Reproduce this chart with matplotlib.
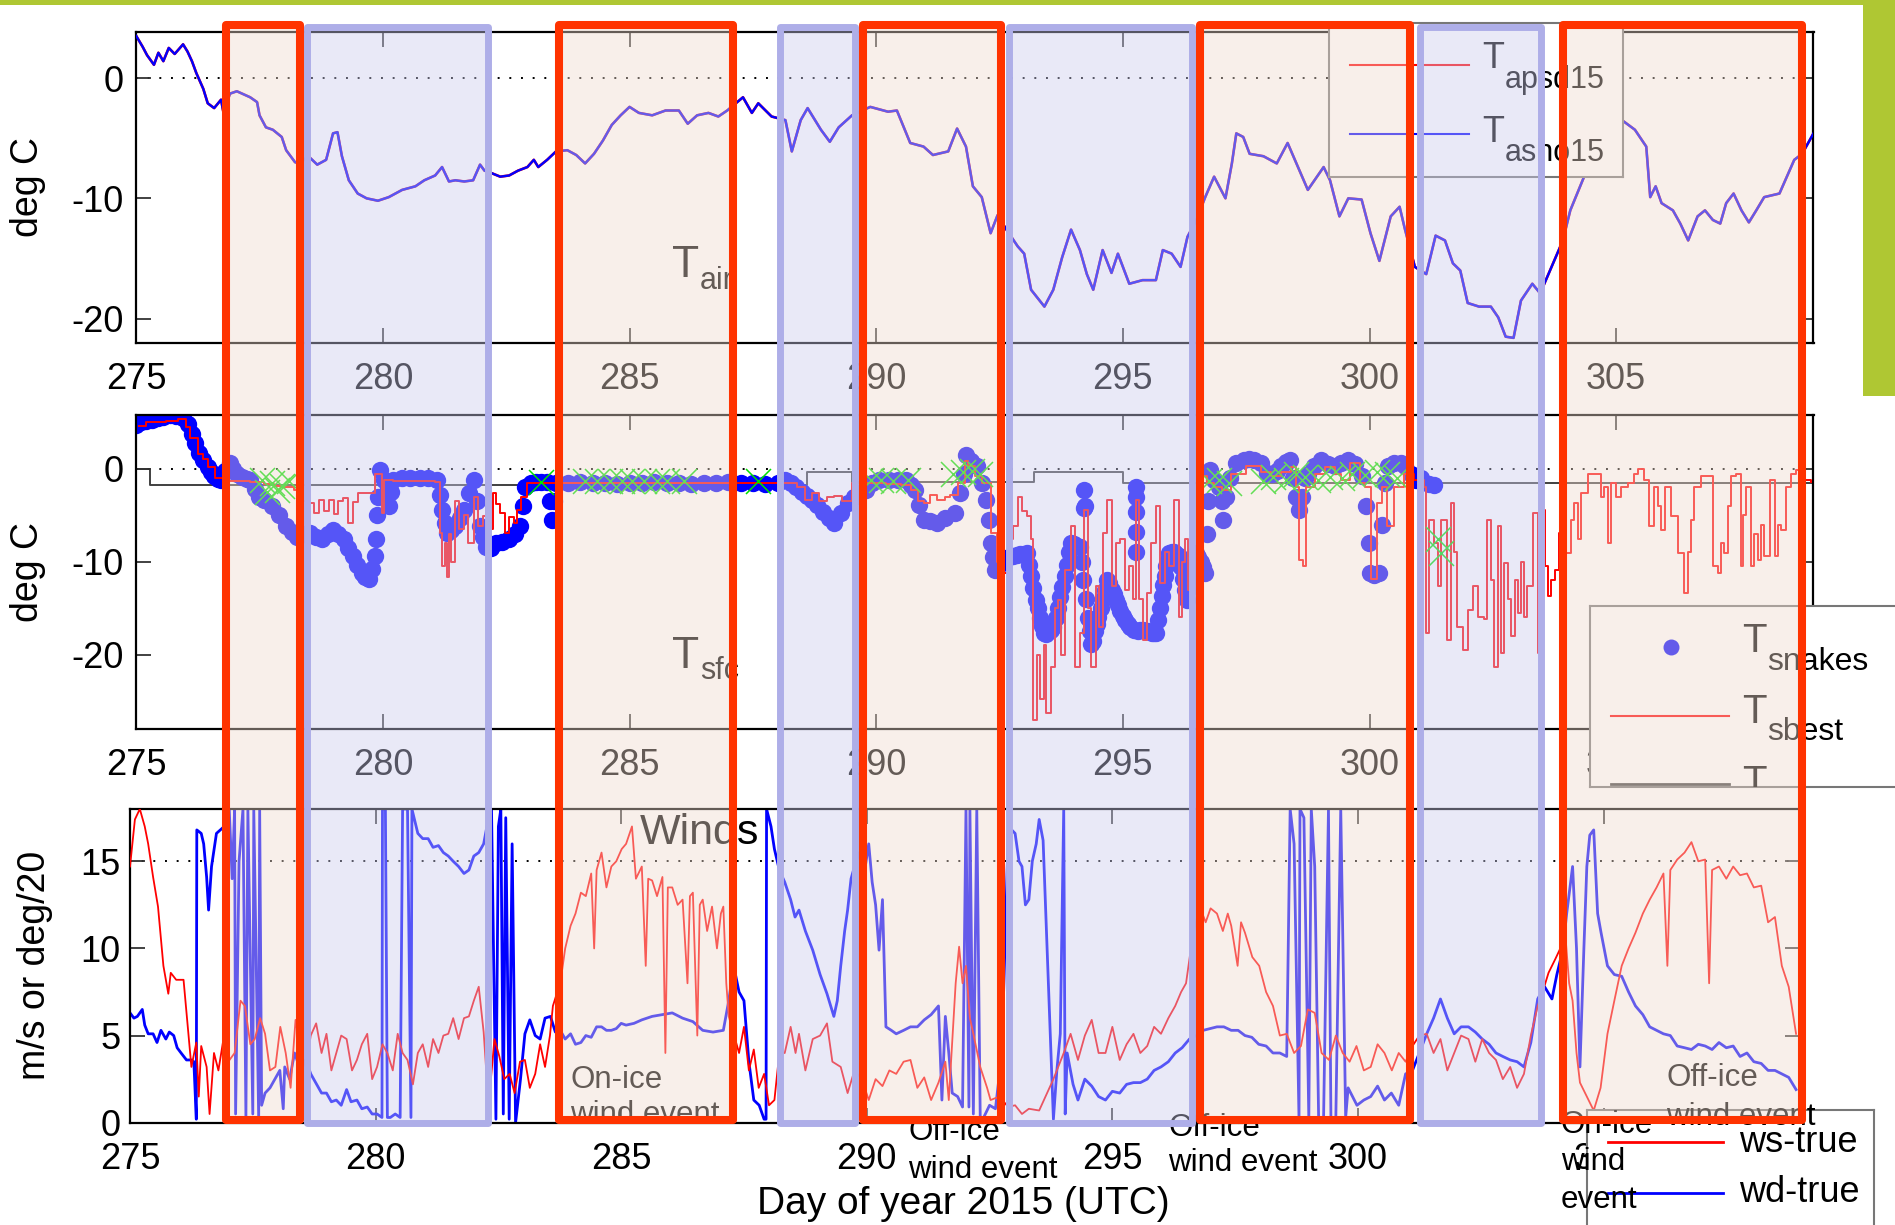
import matplotlib
matplotlib.use("Agg")
import matplotlib.pyplot as plt
from matplotlib.patches import Rectangle
from matplotlib.transforms import Affine2D, blended_transform_factory

plt.rcParams['font.family'] = ['Liberation Sans', 'DejaVu Sans']
plt.rcParams['axes.unicode_minus'] = False

# ---- data (day of year 2015) ----
# top panel: air temperature
t_day = [275.00, 275.13, 275.22, 275.36, 275.45, 275.55, 275.66, 275.78, 275.95, 276.04,
         276.13, 276.22, 276.36, 276.45, 276.58, 276.72, 276.77, 276.90, 277.04, 277.31,
         277.45, 277.50, 277.63, 277.77, 277.95, 278.04, 278.22, 278.31, 278.49, 278.67,
         278.85, 278.99, 279.08, 279.17, 279.31, 279.49, 279.67, 279.90, 280.12, 280.39,
         280.66, 280.84, 281.06, 281.20, 281.34, 281.47, 281.65, 281.83, 281.97, 282.06,
         282.20, 282.38, 282.56, 282.74, 282.93, 283.06, 283.15, 283.33, 283.51, 283.74,
         283.92, 284.10, 284.28, 284.46, 284.64, 284.82, 285.00, 285.19, 285.46, 285.73,
         286.00, 286.18, 286.37, 286.60, 286.80, 286.98, 287.30, 287.48, 287.61, 287.88,
         288.16, 288.29, 288.47, 288.61, 288.88, 289.06, 289.24, 289.51, 289.88, 290.24,
         290.42, 290.69, 290.96, 291.15, 291.46, 291.64, 291.82, 291.96, 292.14, 292.32,
         292.46, 292.64, 292.87, 293.00, 293.14, 293.41, 293.59, 293.77, 293.95, 294.13,
         294.27, 294.40, 294.59, 294.77, 294.90, 295.13, 295.40, 295.67, 295.81, 295.99,
         296.17, 296.31, 296.49, 296.67, 296.85, 297.08, 297.21, 297.30, 297.44, 297.57,
         297.85, 298.12, 298.34, 298.57, 298.75, 299.07, 299.20, 299.39, 299.57, 299.84,
         300.02, 300.20, 300.43, 300.61, 300.72, 300.92, 301.15, 301.34, 301.53, 301.69,
         301.84, 301.99, 302.22, 302.46, 302.61, 302.76, 302.92, 303.07, 303.30, 303.46,
         303.69, 303.92, 304.07, 304.27, 304.38, 304.69, 305.15, 305.38, 305.61, 305.69,
         305.80, 305.92, 306.15, 306.30, 306.46, 306.65, 306.80, 306.96, 307.11, 307.23,
         307.38, 307.54, 307.69, 307.84, 308.00, 308.31, 308.46, 308.61, 308.77, 308.92, 309.00]
t_asho15 = [3.5, 2.6, 1.9, 1.1, 2.1, 1.4, 2.5, 2.0, 2.8, 2.2,
            1.4, 0.4, -0.9, -2.1, -2.5, -1.8, -2.9, -1.3, -1.1, -1.6,
            -2.0, -3.1, -4.1, -4.3, -4.9, -6.0, -7.0, -7.1, -6.5, -7.2,
            -6.8, -4.6, -4.5, -6.5, -8.5, -9.6, -10.0, -10.2, -9.9, -9.3,
            -9.0, -8.5, -8.1, -7.4, -8.6, -8.5, -8.6, -8.5, -7.2, -7.7,
            -7.9, -8.2, -8.1, -7.7, -7.4, -6.8, -7.4, -6.8, -6.1, -6.0,
            -6.4, -7.1, -6.3, -5.2, -3.9, -3.1, -2.4, -2.9, -3.1, -2.7,
            -2.7, -3.8, -3.1, -2.9, -3.2, -2.7, -1.6, -2.9, -2.1, -3.2,
            -3.5, -6.1, -3.5, -2.5, -4.3, -5.3, -4.1, -3.1, -2.4, -2.8,
            -2.7, -5.4, -5.7, -6.4, -6.1, -4.2, -5.7, -9.0, -9.9, -12.9,
            -11.4, -12.6, -14.0, -14.6, -17.6, -19.0, -17.6, -14.9, -12.6, -14.3,
            -16.3, -17.6, -14.3, -16.2, -14.6, -17.1, -16.8, -16.8, -14.3, -14.6,
            -15.7, -13.2, -11.8, -9.9, -8.2, -10.0, -7.1, -4.6, -4.9, -6.3,
            -6.5, -7.1, -5.4, -7.6, -9.3, -7.4, -8.5, -11.5, -10.0, -10.1,
            -12.9, -15.2, -11.5, -10.7, -12.6, -15.7, -16.3, -13.1, -13.5, -15.4,
            -16.0, -18.7, -19.0, -19.0, -19.9, -21.5, -21.6, -18.5, -17.1, -17.9,
            -15.7, -13.5, -11.0, -9.0, -7.9, -5.2, -3.6, -4.3, -5.7, -9.9,
            -9.0, -10.4, -11.0, -12.1, -13.5, -11.5, -11.0, -11.8, -12.1, -10.4,
            -9.6, -11.0, -12.0, -11.0, -9.9, -9.6, -8.2, -6.8, -6.3, -5.2, -4.6]
# the two air sensors are indistinguishable at this scale
t_apsd15 = [3.5, 2.6, 1.9, 1.1, 2.1, 1.4, 2.5, 2.0, 2.8, 2.2,
            1.4, 0.4, -0.9, -2.1, -2.5, -1.8, -2.9, -1.3, -1.1, -1.6,
            -2.0, -3.1, -4.1, -4.3, -4.9, -6.0, -7.0, -7.1, -6.5, -7.2,
            -6.8, -4.6, -4.5, -6.5, -8.5, -9.6, -10.0, -10.2, -9.9, -9.3,
            -9.0, -8.5, -8.1, -7.4, -8.6, -8.5, -8.6, -8.5, -7.2, -7.7,
            -7.9, -8.2, -8.1, -7.7, -7.4, -6.8, -7.4, -6.8, -6.1, -6.0,
            -6.4, -7.1, -6.3, -5.2, -3.9, -3.1, -2.4, -2.9, -3.1, -2.7,
            -2.7, -3.8, -3.1, -2.9, -3.2, -2.7, -1.6, -2.9, -2.1, -3.2,
            -3.5, -6.1, -3.5, -2.5, -4.3, -5.3, -4.1, -3.1, -2.4, -2.8,
            -2.7, -5.4, -5.7, -6.4, -6.1, -4.2, -5.7, -9.0, -9.9, -12.9,
            -11.4, -12.6, -14.0, -14.6, -17.6, -19.0, -17.6, -14.9, -12.6, -14.3,
            -16.3, -17.6, -14.3, -16.2, -14.6, -17.1, -16.8, -16.8, -14.3, -14.6,
            -15.7, -13.2, -11.8, -9.9, -8.2, -10.0, -7.1, -4.6, -4.9, -6.3,
            -6.5, -7.1, -5.4, -7.6, -9.3, -7.4, -8.5, -11.5, -10.0, -10.1,
            -12.9, -15.2, -11.5, -10.7, -12.6, -15.7, -16.3, -13.1, -13.5, -15.4,
            -16.0, -18.7, -19.0, -19.0, -19.9, -21.5, -21.6, -18.5, -17.1, -17.9,
            -15.7, -13.5, -11.0, -9.0, -7.9, -5.2, -3.6, -4.3, -5.7, -9.9,
            -9.0, -10.4, -11.0, -12.1, -13.5, -11.5, -11.0, -11.8, -12.1, -10.4,
            -9.6, -11.0, -12.0, -11.0, -9.9, -9.6, -8.2, -6.8, -6.3, -5.2, -4.6]

# middle panel: surface temperature
snake_day = [275.00, 275.10, 275.20, 275.32, 275.45, 275.55, 275.68, 275.80, 275.95, 276.05,
             276.13, 276.20, 276.27, 276.35, 276.45, 276.52, 276.58, 276.65, 276.72, 276.80,
             276.90, 276.97, 277.04, 277.15, 277.25, 277.31, 277.40, 277.49, 277.60, 277.76,
             277.90, 278.03, 278.15, 278.26, 278.40, 278.53, 278.65, 278.76, 278.88, 278.99,
             279.10, 279.21, 279.30, 279.39, 279.48, 279.57, 279.64, 279.71, 279.78, 279.85,
             279.87, 279.89, 279.91, 279.94, 280.03, 280.08, 280.12, 280.16, 280.20, 280.39,
             280.55, 280.75, 280.92, 281.10, 281.15, 281.20, 281.25, 281.30, 281.39, 281.47,
             281.56, 281.65, 281.74, 281.84, 281.90, 281.97, 282.03, 282.10, 282.20, 282.29,
             282.42, 282.56, 282.68, 282.79, 282.84, 282.88, 283.00, 283.10, 283.20, 283.33,
             283.38, 283.42, 283.47, 283.51, 283.75, 284.00, 284.25, 284.50, 284.75, 285.00,
             285.25, 285.50, 285.75, 286.00, 286.25, 286.50, 286.75, 287.00, 287.25, 287.50,
             287.75, 288.00, 288.16, 288.27, 288.38, 288.50, 288.60, 288.70, 288.80, 288.92,
             289.04, 289.15, 289.28, 289.42, 289.55, 289.67, 289.79, 289.92, 290.06, 290.25,
             290.45, 290.60, 290.70, 290.78, 290.87, 290.96, 291.10, 291.24, 291.40, 291.60,
             291.70, 291.78, 291.82, 291.93, 292.05, 292.14, 292.23, 292.28, 292.32, 292.37,
             292.41, 292.55, 292.70, 292.78, 292.92, 293.05, 293.14, 293.23, 293.32, 293.41,
             293.50, 293.59, 293.68, 293.77, 293.86, 293.95, 294.04, 294.13, 294.20, 294.22,
             294.24, 294.30, 294.36, 294.43, 294.50, 294.59, 294.68, 294.77, 294.86, 294.95,
             295.05, 295.15, 295.22, 295.27, 295.27, 295.27, 295.31, 295.40, 295.50, 295.60,
             295.67, 295.75, 295.82, 295.88, 295.94, 296.04, 296.13, 296.22, 296.31, 296.40,
             296.49, 296.58, 296.67, 296.70, 296.73, 296.76, 296.85, 296.94, 297.00, 297.03,
             297.10, 297.17, 297.30, 297.45, 297.55, 297.66, 297.80, 297.92, 298.03, 298.12,
             298.21, 298.30, 298.39, 298.45, 298.50, 298.57, 298.63, 298.70, 298.75, 298.88,
             299.02, 299.15, 299.30, 299.43, 299.57, 299.70, 299.84, 299.92, 299.98, 300.02,
             300.10, 300.20, 300.26, 300.32, 300.38, 300.50, 300.63, 300.72, 300.85, 300.95,
             301.05, 301.20, 301.30,
             292.45, 292.50, 292.62, 292.85, 293.00, 293.09, 293.18, 293.27, 293.36, 293.45,
             293.55, 293.64, 293.72, 293.82, 293.90, 294.00, 294.08, 294.17, 294.26, 294.33,
             294.40, 294.47, 294.55, 294.64, 294.72, 294.82, 294.90, 295.00, 295.10, 295.35,
             295.45, 295.55, 295.63, 295.71, 295.79, 295.85, 295.91, 295.99, 296.08, 296.17,
             296.26, 296.35, 296.44, 296.53, 296.62, 294.22, 295.27, 295.27]
snake_val = [4.7, 5.0, 5.2, 5.3, 5.5, 5.6, 5.8, 5.7, 5.5, 4.8,
             3.8, 2.8, 1.7, 1.0, 0.2, -0.3, -0.8, -1.1, -1.2, -0.2,
             0.6, 0.0, -0.5, -0.9, -1.1, -1.2, -2.2, -3.0, -3.4, -4.0,
             -5.0, -6.2, -6.8, -7.3, -7.0, -6.9, -7.3, -7.6, -7.0, -6.6,
             -7.0, -7.6, -8.5, -9.4, -10.3, -11.2, -11.6, -11.9, -10.8, -9.4,
             -7.5, -5.0, -3.0, -0.1, -1.2, -2.5, -4.0, -2.5, -1.2, -1.0,
             -1.0, -1.0, -1.0, -1.2, -2.8, -4.4, -5.8, -6.9, -6.6, -6.2,
             -5.3, -4.4, -2.6, -1.2, -3.5, -6.2, -7.3, -8.4, -8.5, -8.0,
             -7.9, -7.6, -7.0, -6.2, -4.0, -1.9, -1.5, -1.4, -1.4, -1.4,
             -3.5, -5.5, -3.5, -1.5, -1.5, -1.4, -1.5, -1.5, -1.6, -1.5,
             -1.5, -1.4, -1.5, -1.5, -1.6, -1.5, -1.5, -1.4, -1.5, -1.5,
             -1.6, -1.5, -1.2, -1.5, -1.9, -2.5, -2.9, -3.3, -3.9, -4.6,
             -5.3, -5.8, -4.8, -3.7, -3.0, -2.6, -2.3, -1.5, -1.2, -1.2,
             -1.2, -1.2, -1.7, -2.3, -3.9, -5.5, -5.6, -5.8, -5.3, -4.8,
             -2.6, -0.5, 1.5, 0.9, 0.3, -1.5, -3.3, -5.5, -8.0, -9.5,
             -10.9, -10.0, -9.5, -9.4, -9.2, -9.1, -11.5, -14.1, -16.0, -17.7,
             -17.5, -17.0, -15.0, -12.7, -10.3, -8.0, -8.3, -8.4, -12.0, -2.3,
             -4.0, -16.0, -18.8, -17.5, -15.9, -14.0, -12.0, -13.0, -14.1, -15.3,
             -16.3, -17.0, -17.3, -1.9, -4.6, -9.0, -17.4, -17.3, -17.5, -17.7,
             -17.7, -15.0, -12.5, -10.5, -9.1, -9.0, -9.4, -11.8, -14.1, -11.5,
             -9.1, -10.0, -11.2, -7.0, -3.5, -0.1, -1.2, -1.9, -3.5, -5.5,
             -3.0, -1.0, 0.6, 1.0, 1.1, 1.0, 0.6, -0.4, -0.5, -0.2,
             0.3, 0.7, 1.0, -1.0, -3.0, -4.4, -3.0, -1.0, -0.5, 0.3,
             1.0, 0.5, 0.3, 0.6, 1.0, 0.5, -0.8, -4.0, -8.0, -11.2,
             -11.4, -11.2, -6.0, -1.5, 0.3, 0.6, 0.6, 0.3, -0.6, -1.2,
             -1.0, -1.6, -1.7,
             -10.5, -10.2, -9.8, -9.3, -9.2, -10.3, -12.8, -15.0, -16.9, -17.8,
             -17.3, -16.0, -13.8, -11.5, -9.0, -8.1, -8.3, -10.0, -14.0, -17.5,
             -18.5, -16.7, -15.0, -13.0, -12.3, -13.5, -14.7, -15.8, -16.7, -17.3,
             -17.4, -17.6, -17.7, -16.3, -13.7, -11.5, -9.8, -9.0, -9.2, -10.6,
             -13.0, -12.8, -10.3, -9.5, -10.6, -4.2, -3.0, -6.8]

sbest_day = [275.05, 275.20, 275.40, 275.60, 275.85, 276.00, 276.10, 276.25, 276.35, 276.45,
             276.60, 276.75, 277.00, 277.30, 277.60, 277.80, 278.00, 278.20, 278.35, 278.50,
             278.60, 278.70, 278.80, 278.90, 279.00, 279.10, 279.20, 279.30, 279.40, 279.50,
             279.65, 279.75, 279.85, 279.92, 279.98, 280.02, 280.20, 280.50, 280.80, 281.05,
             281.15, 281.20, 281.25, 281.30, 281.35, 281.39, 281.47, 281.55, 281.65, 281.72,
             281.84, 281.92, 282.02, 282.10, 282.20, 282.24, 282.30, 282.38, 282.47, 282.56,
             282.65, 282.72, 282.80, 282.93, 283.50, 288.16, 288.40, 288.55, 288.70, 288.85,
             289.00, 289.15, 289.30, 289.50, 289.80, 290.20, 290.50, 290.70, 290.85, 290.96,
             291.10, 291.24, 291.40, 291.50, 291.65, 291.80, 291.87, 292.00, 292.14, 292.32,
             292.45, 292.59, 292.70, 292.78, 292.87, 292.95, 293.05, 293.14, 293.18, 293.25,
             293.32, 293.40, 293.45, 293.55, 293.62, 293.68, 293.75, 293.82, 293.95, 294.04,
             294.13, 294.22, 294.30, 294.36, 294.45, 294.52, 294.59, 294.68, 294.77, 294.86,
             294.95, 295.05, 295.13, 295.20, 295.27, 295.33, 295.40, 295.49, 295.57, 295.67,
             295.76, 295.85, 295.94, 296.03, 296.13, 296.20, 296.26, 296.33, 296.40, 296.50,
             296.58, 296.70, 296.85, 297.00, 297.20, 297.50, 297.80, 298.00, 298.20, 298.40,
             298.50, 298.57, 298.65, 298.72, 298.90, 299.10, 299.30, 299.42, 299.60, 299.80,
             299.90, 300.03, 300.09, 300.16, 300.25, 300.36, 300.50, 300.70, 300.90, 301.11,
             301.14, 301.21, 301.30, 301.38, 301.45, 301.58, 301.65, 301.72, 301.78, 301.89,
             301.99, 302.09, 302.19, 302.33, 302.39, 302.46, 302.53, 302.60, 302.66, 302.73,
             302.80, 302.87, 302.94, 303.00, 303.07, 303.14, 303.20, 303.31, 303.41, 303.48,
             303.55, 303.61, 303.68, 303.75, 303.85, 303.95, 304.08, 304.15, 304.22, 304.29,
             304.42, 304.56, 304.69, 304.76, 304.83, 304.90, 305.00, 305.10, 305.23, 305.37,
             305.44, 305.57, 305.67, 305.77, 305.84, 305.91, 305.98, 306.11, 306.25, 306.38,
             306.45, 306.52, 306.58, 306.72, 306.86, 306.96, 307.06, 307.12, 307.19, 307.26,
             307.33, 307.43, 307.53, 307.58, 307.63, 307.74, 307.80, 307.87, 307.94, 308.00,
             308.11, 308.21, 308.28, 308.34, 308.44, 308.55, 308.65, 308.75, 308.95]
sbest_val = [4.6, 5.0, 5.0, 5.2, 5.4, 4.5, 3.3, 1.6, 1.1, 0.2,
             -1.0, -1.3, -1.3, -1.4, -1.6, -1.8, -2.0, -2.3, -3.5, -3.7,
             -4.8, -3.3, -4.5, -3.3, -4.9, -3.5, -3.1, -5.8, -3.6, -2.6,
             -2.6, -2.6, -0.5, -0.6, -4.8, -1.2, -1.3, -1.3, -1.3, -1.4,
             -6.9, -10.5, -8.0, -11.6, -7.0, -10.0, -3.5, -6.5, -5.0, -8.0,
             -3.0, -6.2, -5.1, -3.5, -6.5, -2.6, -3.8, -4.8, -6.9, -5.2,
             -5.8, -4.4, -3.0, -1.5, -1.5, -1.5, -2.0, -3.3, -2.6, -3.5,
             -3.0, -2.9, -3.5, -1.5, -1.5, -1.6, -1.7, -2.3, -3.5, -3.7,
             -2.8, -3.3, -3.0, -2.8, -1.5, 0.8, 0.3, -0.8, -1.5, -6.9,
             -10.0, -11.2, -7.5, -6.2, -3.0, -4.5, -5.1, -7.6, -27.0, -20.0,
             -24.8, -19.0, -26.3, -21.3, -15.0, -14.1, -20.0, -10.9, -6.2, -21.3,
             -17.7, -4.4, -15.0, -21.3, -12.6, -17.0, -6.9, -3.3, -12.6, -8.0,
             -7.6, -13.0, -10.5, -14.0, -3.3, -14.0, -18.4, -13.4, -8.0, -4.0,
             -12.3, -9.0, -10.5, -3.3, -15.9, -10.0, -7.6, -13.0, -12.6, -6.0,
             -0.8, -1.5, -1.9, -2.3, -0.5, 0.3, -0.3, -0.8, -0.3, 0.2,
             -2.0, -9.8, -10.5, -2.0, -0.6, 0.2, -0.5, -1.2, 0.6, -1.5,
             -2.0, -11.9, -11.9, -3.7, -2.0, -6.2, -1.9, -0.5, -1.2, -1.9,
             -17.7, -5.5, -8.0, -12.6, -5.5, -18.4, -3.7, -9.0, -17.0, -19.5,
             -15.2, -12.6, -15.9, -16.2, -5.5, -12.0, -21.3, -6.2, -19.8, -10.1,
             -14.0, -18.0, -12.0, -15.5, -10.0, -15.9, -12.6, -4.8, -19.8, -4.4,
             -10.5, -13.7, -12.0, -10.9, -6.9, -9.1, -5.5, -3.7, -7.6, -2.6,
             -0.5, -0.6, -3.0, -2.0, -8.0, -1.5, -3.0, -1.9, -1.5, -0.5,
             0.0, -1.2, -6.2, -1.9, -4.0, -6.6, -1.9, -5.1, -9.1, -13.4,
             -9.0, -5.5, -1.9, -0.8, -0.8, -10.5, -11.2, -8.0, -9.1, -4.0,
             -0.8, -0.5, -10.5, -5.0, -1.9, -10.5, -7.0, -9.8, -6.0, -9.4,
             -1.2, -9.4, -6.0, -6.6, -1.9, -0.5, -0.1, -1.2, -1.4]

cross_day = [277.55, 277.65, 277.75, 277.85, 277.95, 278.10, 283.20, 284.10, 284.35, 284.60,
             284.85, 285.05, 285.30, 285.55, 285.75, 286.10, 287.60, 289.90, 290.10, 290.35,
             290.65, 291.55, 291.75, 291.95, 292.10, 296.75, 296.95, 297.15, 297.85, 298.05,
             298.30, 298.50, 298.70, 298.95, 299.20, 299.45, 299.65, 299.90, 300.15, 300.35,
             300.55, 301.38, 301.45]
cross_val = [-1.2, -2.5, -1.5, -2.3, -1.8, -1.3, -1.4, -1.3, -1.3, -1.3,
             -1.3, -1.3, -1.3, -1.3, -1.3, -1.3, -1.3, -1.2, -1.2, -1.3,
             -1.2, -0.5, -0.3, -0.2, -0.6, -1.3, -1.2, -1.5, -1.3, -0.9,
             -1.2, -0.5, -0.9, -1.2, -0.9, -1.0, -0.5, -0.7, -0.3, -0.5,
             -1.0, -7.6, -9.1]

ref_day = [275.00, 275.28, 275.28, 288.60, 288.60, 289.50, 289.50, 293.20, 293.20, 295.00,
           295.00, 309.00]
ref_val = [0.0, 0.0, -1.7, -1.7, -0.3, -0.3, -1.4, -1.4, -0.3, -0.3,
           -1.5, -1.5]

# bottom panel: winds
ws_day = [275.00, 275.10, 275.20, 275.30, 275.37, 275.47, 275.57, 275.68, 275.78, 275.83,
          275.94, 276.09, 276.15, 276.25, 276.35, 276.40, 276.45, 276.56, 276.62, 276.71,
          276.80, 276.92, 277.00, 277.13, 277.25, 277.34, 277.45, 277.54, 277.65, 277.75,
          277.85, 277.96, 278.06, 278.17, 278.27, 278.37, 278.48, 278.58, 278.68, 278.79,
          278.90, 279.00, 279.10, 279.20, 279.30, 279.41, 279.52, 279.62, 279.72, 279.83,
          279.93, 280.03, 280.14, 280.24, 280.35, 280.45, 280.55, 280.65, 280.76, 280.86,
          280.96, 281.07, 281.17, 281.28, 281.38, 281.48, 281.58, 281.69, 281.80, 281.90,
          282.00, 282.10, 282.20, 282.30, 282.42, 282.52, 282.62, 282.73, 282.83, 282.94,
          283.04, 283.14, 283.25, 283.35, 283.45, 283.55, 283.61, 283.70, 283.76, 283.86,
          283.97, 284.07, 284.18, 284.28, 284.39, 284.45, 284.50, 284.60, 284.70, 284.80,
          284.90, 285.01, 285.10, 285.22, 285.30, 285.42, 285.50, 285.55, 285.63, 285.73,
          285.84, 285.90, 285.95, 286.04, 286.15, 286.25, 286.35, 286.40, 286.46, 286.55,
          286.60, 286.66, 286.75, 286.85, 286.95, 287.03, 287.08, 287.14, 287.19, 287.29,
          287.40, 287.50, 287.60, 287.70, 287.80, 287.91, 288.01, 288.12, 288.22, 288.33,
          288.45, 288.55, 288.62, 288.75, 288.90, 289.05, 289.19, 289.30, 289.47, 289.61,
          289.75, 289.90, 290.04, 290.18, 290.32, 290.46, 290.60, 290.75, 290.89, 291.03,
          291.17, 291.31, 291.46, 291.60, 291.67, 291.81, 291.88, 291.95, 292.02, 292.10,
          292.17, 292.31, 292.45, 292.52, 292.70, 292.88, 293.02, 293.16, 293.30, 293.51,
          293.80, 294.01, 294.15, 294.30, 294.44, 294.58, 294.72, 294.86, 295.00, 295.15,
          295.29, 295.43, 295.57, 295.71, 295.85, 295.99, 296.14, 296.28, 296.40, 296.50,
          296.60, 296.70, 296.78, 296.90, 297.00, 297.13, 297.25, 297.35, 297.42, 297.55,
          297.62, 297.70, 297.85, 297.99, 298.13, 298.27, 298.41, 298.55, 298.70, 298.84,
          298.98, 299.12, 299.26, 299.41, 299.55, 299.69, 299.83, 299.97, 300.12, 300.26,
          300.40, 300.54, 300.69, 300.83, 300.97, 301.11, 301.25, 301.40, 301.54, 301.68,
          301.82, 301.96, 302.10, 302.25, 302.39, 302.53, 302.67, 302.81, 302.95, 303.10,
          303.24, 303.38, 303.52, 303.66, 303.76, 303.88, 304.02, 304.12, 304.23, 304.30,
          304.37, 304.45, 304.52, 304.66, 304.80, 304.94, 305.08, 305.22, 305.37, 305.51,
          305.65, 305.80, 305.94, 306.08, 306.22, 306.30, 306.36, 306.50, 306.65, 306.79,
          306.93, 307.07, 307.15, 307.21, 307.35, 307.50, 307.64, 307.78, 307.92, 308.06,
          308.21, 308.35, 308.49, 308.63, 308.77, 308.92]
ws_true = [14.7, 17.4, 18.0, 17.0, 16.0, 14.1, 12.4, 9.0, 7.4, 8.6,
           8.2, 8.2, 6.3, 3.2, 4.6, 1.5, 4.4, 3.2, 0.5, 4.0,
           3.0, 5.1, 3.5, 4.0, 7.0, 6.7, 4.5, 4.8, 6.0, 5.1,
           3.0, 3.2, 5.5, 4.0, 2.0, 5.9, 4.0, 3.2, 5.0, 5.7,
           4.0, 5.1, 3.0, 4.0, 5.0, 4.8, 3.0, 3.6, 4.5, 5.1,
           2.5, 3.2, 4.5, 4.0, 3.0, 5.1, 4.0, 3.6, 2.2, 4.0,
           4.5, 3.2, 4.8, 4.0, 5.0, 5.1, 6.0, 4.8, 6.0, 6.1,
           7.0, 7.8, 5.2, 1.0, 4.8, 3.8, 2.5, 2.8, 1.7, 3.5,
           3.6, 2.0, 2.8, 4.5, 3.2, 5.0, 6.7, 7.5, 8.0, 10.0,
           11.3, 12.0, 13.2, 13.0, 14.3, 10.0, 14.5, 15.5, 13.5, 14.7,
           15.0, 15.7, 16.0, 17.0, 14.0, 14.7, 9.0, 14.0, 13.9, 13.0,
           14.1, 4.0, 13.5, 13.5, 12.5, 12.8, 8.0, 13.0, 13.2, 5.0,
           12.5, 12.8, 11.0, 12.4, 10.0, 12.0, 12.4, 8.0, 6.1, 5.1,
           4.0, 5.5, 3.0, 4.2, 2.0, 2.8, 1.0, 1.3, 4.0, 4.0,
           5.5, 4.0, 5.1, 3.0, 4.8, 5.0, 5.7, 3.5, 3.2, 1.7,
           3.0, 2.5, 1.3, 2.5, 2.1, 3.0, 2.8, 3.5, 3.6, 2.0,
           2.6, 1.3, 2.3, 3.5, 1.3, 8.0, 10.1, 8.0, 9.0, 6.0,
           5.1, 3.2, 2.0, 1.3, 1.5, 0.9, 1.0, 0.5, 0.8, 0.7,
           2.5, 4.0, 5.1, 3.6, 5.0, 5.9, 4.0, 4.0, 5.5, 3.6,
           4.5, 5.1, 4.0, 4.4, 5.5, 5.1, 6.0, 6.7, 7.5, 8.0,
           10.0, 11.5, 12.4, 11.5, 12.3, 12.0, 11.0, 12.0, 11.3, 9.0,
           11.5, 10.9, 9.5, 9.0, 7.5, 6.7, 5.0, 5.1, 4.0, 4.4,
           6.5, 6.3, 4.0, 3.6, 5.0, 4.0, 3.5, 4.4, 3.0, 3.2,
           4.5, 4.0, 3.0, 4.0, 3.5, 4.4, 5.0, 5.1, 4.0, 4.8,
           3.0, 4.0, 5.0, 4.8, 3.5, 4.8, 4.0, 3.6, 2.5, 3.2,
           2.0, 2.8, 5.0, 6.7, 7.5, 8.6, 9.4, 10.0, 10.5, 8.0,
           7.0, 4.0, 2.3, 1.5, 0.7, 2.0, 5.1, 7.0, 9.0, 10.0,
           10.9, 12.0, 12.8, 13.5, 14.3, 9.0, 14.5, 15.1, 15.5, 16.1,
           15.0, 15.1, 8.0, 14.5, 14.7, 14.0, 14.7, 14.2, 14.3, 13.5,
           13.6, 11.5, 11.8, 9.0, 7.8, 5.1]

wd_day = [275.00, 275.08, 275.15, 275.25, 275.30, 275.37, 275.47, 275.55, 275.63, 275.73,
          275.80, 275.89, 275.96, 276.04, 276.15, 276.25, 276.30, 276.35, 276.36, 276.45,
          276.50, 276.56, 276.60, 276.66, 276.76, 276.92, 277.02, 277.08, 277.13, 277.15,
          277.22, 277.30, 277.36, 277.40, 277.50, 277.52, 277.62, 277.64, 277.68, 277.75,
          277.85, 277.95, 278.05, 278.12, 278.15, 278.25, 278.35, 278.45, 278.58, 278.68,
          278.80, 278.90, 279.00, 279.10, 279.20, 279.30, 279.41, 279.50, 279.62, 279.72,
          279.83, 279.93, 280.03, 280.13, 280.14, 280.20, 280.24, 280.30, 280.40, 280.50,
          280.55, 280.65, 280.72, 280.74, 280.86, 280.96, 281.07, 281.17, 281.28, 281.38,
          281.48, 281.58, 281.69, 281.80, 281.90, 282.00, 282.10, 282.20, 282.30, 282.36,
          282.45, 282.50, 282.55, 282.60, 282.65, 282.72, 282.78, 282.85, 282.95, 283.04,
          283.14, 283.25, 283.35, 283.45, 283.56, 283.66, 283.76, 283.86, 283.97, 284.07,
          284.18, 284.28, 284.39, 284.50, 284.60, 284.70, 284.80, 284.90, 285.00, 285.10,
          285.26, 285.42, 285.63, 285.84, 286.04, 286.25, 286.46, 286.66, 286.87, 287.08,
          287.19, 287.29, 287.40, 287.50, 287.60, 287.70, 287.81, 287.91, 287.95, 287.96,
          288.05, 288.12, 288.22, 288.33, 288.45, 288.54, 288.62, 288.75, 288.90, 289.05,
          289.19, 289.33, 289.40, 289.47, 289.55, 289.61, 289.68, 289.75, 289.85, 289.97,
          290.04, 290.11, 290.18, 290.25, 290.32, 290.39, 290.50, 290.60, 290.75, 290.89,
          291.03, 291.17, 291.31, 291.46, 291.53, 291.60, 291.67, 291.74, 291.85, 291.95,
          292.02, 292.08, 292.10, 292.17, 292.24, 292.31, 292.38, 292.50, 292.62, 292.75,
          292.88, 292.95, 293.02, 293.10, 293.16, 293.23, 293.30, 293.37, 293.45, 293.51,
          293.59, 293.80, 293.87, 293.94, 294.01, 294.04, 294.08, 294.20, 294.30, 294.44,
          294.58, 294.72, 294.86, 295.00, 295.15, 295.29, 295.43, 295.57, 295.71, 295.85,
          295.99, 296.14, 296.28, 296.42, 296.57, 296.71, 296.85, 296.99, 297.13, 297.27,
          297.42, 297.56, 297.70, 297.84, 297.98, 298.13, 298.27, 298.41, 298.55, 298.62,
          298.70, 298.80, 298.82, 298.90, 299.00, 299.05, 299.12, 299.20, 299.30, 299.40,
          299.45, 299.55, 299.65, 299.75, 299.80, 299.98, 300.12, 300.26, 300.40, 300.54,
          300.68, 300.83, 300.97, 301.11, 301.25, 301.40, 301.54, 301.68, 301.82, 301.96,
          302.10, 302.25, 302.39, 302.53, 302.67, 302.81, 302.95, 303.10, 303.24, 303.38,
          303.52, 303.66, 303.80, 303.95, 304.05, 304.17, 304.25, 304.37, 304.45, 304.52,
          304.60, 304.66, 304.72, 304.80, 304.88, 304.95, 305.08, 305.22, 305.37, 305.51,
          305.65, 305.80, 305.94, 306.08, 306.22, 306.36, 306.50, 306.65, 306.79, 306.93,
          307.07, 307.21, 307.35, 307.50, 307.64, 307.78, 307.92, 308.06, 308.21, 308.35,
          308.49, 308.63, 308.77, 308.92]
wd_true = [6.3, 6.0, 6.1, 6.5, 5.6, 5.1, 5.1, 4.6, 5.3, 4.8,
           5.2, 5.0, 4.3, 4.0, 3.6, 3.6, 3.5, 0.2, 16.8, 16.6,
           16.0, 14.1, 12.2, 14.7, 16.6, 17.0, 18.0, 14.0, 18.0, 0.5,
           15.0, 18.0, 0.3, 18.0, 0.5, 18.0, 0.2, 18.0, 1.0, 1.7,
           2.0, 2.5, 3.0, 0.8, 3.2, 2.5, 4.0, 3.2, 3.6, 2.8,
           2.2, 1.7, 1.7, 1.2, 1.3, 1.0, 1.9, 1.2, 1.3, 0.8,
           0.9, 0.5, 0.5, 0.3, 18.0, 18.0, 0.3, 0.3, 0.5, 0.3,
           18.0, 18.0, 0.3, 18.0, 16.6, 16.3, 16.3, 15.8, 15.9, 15.5,
           15.3, 15.0, 14.7, 14.3, 14.5, 15.3, 15.5, 16.0, 17.5, 18.0,
           0.2, 17.0, 18.0, 0.5, 17.5, 0.2, 16.0, 0.0, 2.5, 5.1,
           5.9, 5.0, 4.8, 6.0, 6.1, 5.2, 5.3, 4.8, 5.1, 4.5,
           4.6, 5.0, 4.9, 5.5, 5.5, 5.3, 5.3, 5.4, 5.7, 5.6,
           5.7, 5.9, 6.1, 6.2, 6.3, 6.0, 5.8, 5.3, 5.2, 5.3,
           7.0, 9.0, 7.5, 7.0, 3.5, 1.3, 1.0, 0.2, 0.2, 18.0,
           17.0, 15.7, 14.5, 13.8, 12.8, 11.8, 12.2, 11.0, 9.9, 8.5,
           7.4, 6.1, 7.0, 9.0, 11.0, 12.2, 14.0, 14.7, 15.5, 14.7,
           16.0, 13.8, 12.5, 9.9, 12.8, 5.5, 5.3, 5.1, 5.3, 5.5,
           5.5, 5.9, 6.2, 6.7, 1.3, 6.1, 4.0, 1.7, 1.5, 0.9,
           18.0, 0.9, 18.0, 0.5, 18.0, 0.3, 0.3, 1.0, 0.8, 4.0,
           16.6, 16.8, 16.6, 15.0, 14.7, 12.5, 12.8, 15.0, 16.0, 17.4,
           16.2, 0.2, 3.0, 5.1, 18.0, 0.5, 4.0, 2.2, 1.3, 2.5,
           2.1, 1.5, 1.3, 1.8, 1.7, 2.2, 2.3, 2.3, 2.5, 3.0,
           3.2, 3.5, 4.0, 4.3, 4.8, 5.0, 5.3, 5.4, 5.5, 5.5,
           5.3, 5.3, 5.0, 4.9, 4.5, 4.4, 4.0, 4.0, 3.8, 18.0,
           16.0, 0.2, 18.0, 17.5, 0.2, 18.0, 14.7, 0.2, 0.2, 18.0,
           0.2, 0.3, 18.0, 0.3, 2.0, 1.0, 1.3, 1.5, 2.1, 1.3,
           1.7, 1.0, 2.8, 3.0, 4.0, 5.1, 6.0, 7.1, 6.0, 5.1,
           5.5, 5.5, 5.2, 4.8, 4.5, 4.0, 3.8, 3.6, 3.5, 3.2,
           4.6, 7.1, 7.8, 7.1, 8.5, 9.9, 12.0, 14.7, 10.0, 3.2,
           10.0, 14.7, 16.5, 16.8, 12.0, 10.9, 9.0, 8.5, 8.4, 7.5,
           6.7, 6.2, 5.5, 5.3, 5.1, 5.0, 4.4, 4.3, 4.2, 4.5,
           4.4, 4.2, 4.6, 4.3, 4.4, 3.8, 4.0, 3.5, 3.4, 3.0,
           3.0, 2.8, 2.6, 1.9]

# highlighted periods (day of year): red = wind events, lavender = calm spells
event_start = [276.82, 283.58, 289.73, 296.56, 303.93]
event_end = [278.32, 287.09, 292.52, 300.82, 308.77]
calm_start = [278.46, 288.06, 292.70, 301.02]
calm_end = [282.14, 289.58, 296.41, 303.47]

xticks = [275, 280, 285, 290, 295, 300, 305]

# ---- figure, laid out in output pixels ----
W, H = 1895, 1225
fig = plt.figure(figsize=(W / 100, H / 100), dpi=100)
px = Affine2D().scale(1, -1).translate(0, H)  # (x, y-from-top) in pixels


def rect(x0, y0, x1, y1):
    return [x0 / W, 1 - y1 / H, (x1 - x0) / W, (y1 - y0) / H]


def style(ax, ylim, yticks, ypad):
    ax.set_xlim(275, 309)
    ax.set_ylim(*ylim)
    ax.set_xticks(xticks)
    ax.set_yticks(yticks)
    ax.tick_params(direction='in', length=11, width=1.3, top=True, right=True,
                   labelsize=26, color='#333333')
    ax.tick_params(axis='x', pad=14)
    ax.tick_params(axis='y', pad=ypad)
    for s in ax.spines.values():
        s.set_linewidth(1.6)


ax1 = fig.add_axes(rect(136.2, 31.7, 1813.5, 342.7))
ax2 = fig.add_axes(rect(136.2, 415, 1813.5, 729))
ax3 = fig.add_axes(rect(130, 809, 1800, 1122.7))

# top: air temperature
ax1.plot(t_day, t_apsd15, color='#FF0000', lw=1.9, zorder=2)
ax1.plot(t_day, t_asho15, color='#0000FF', lw=1.7, zorder=3)
ax1.axhline(0, color='black', lw=1.4, ls=(0, (1, 5)), zorder=1)
style(ax1, (-22, 3.85), [-20, -10, 0], 9)
ax1.set_ylabel('deg C', fontsize=27)
ax1.yaxis.set_label_coords(-0.054, 0.5)

# middle: surface temperature
ax2.plot(ref_day, ref_val, color='#404040', lw=1.4, zorder=1)
ax2.plot(snake_day, snake_val, 'o', color='#0000FF', ms=12.5, mew=0, zorder=2)
ax2.plot(sbest_day, sbest_val, color='#FF0000', lw=1.4, drawstyle='steps-post', zorder=3)
ax2.plot(cross_day, cross_val, 'x', color='#00E000', ms=18, mew=1.1, zorder=4)
ax2.axhline(0, color='black', lw=1.4, ls=(0, (1, 5)), zorder=1)
style(ax2, (-28, 5.8), [-20, -10, 0], 9)
ax2.set_ylabel('deg C', fontsize=27)
ax2.yaxis.set_label_coords(-0.054, 0.5)

# bottom: winds
ax3.plot(wd_day, wd_true, color='#0000FF', lw=2.0, zorder=2)
ax3.plot(ws_day, ws_true, color='#FF0000', lw=1.3, zorder=3)
ax3.axhline(15, color='black', lw=1.4, ls=(0, (1, 5)), zorder=1)
style(ax3, (0, 18), [0, 5, 10, 15], 7)
ax3.set_ylabel('m/s or deg/20', fontsize=27)
ax3.yaxis.set_label_coords(-0.046, 0.5)
fig.text(963, 1204, 'Day of year 2015 (UTC)', transform=px, fontsize=28,
         ha='center', va='center')


def sub_label(target, tr, x, y, main, sub, size, subsize, dy, clip=False):
    a = target.text(x, y, main, transform=tr, fontsize=size, ha='left', va='baseline',
                    zorder=3, clip_on=clip)
    b = target.text(x + 0.611 * size * 100 / 72 + 1, y + dy, sub, transform=tr,
                    fontsize=subsize, ha='left', va='baseline', zorder=3, clip_on=clip)
    return a, b


sub_label(fig, px, 672, 277, 'T', 'air', 32, 22, 12)
sub_label(fig, px, 672, 668, 'T', 'sfc', 32, 22, 11)
fig.text(640, 833, 'Winds', transform=px, fontsize=31, ha='left', va='center')


def legend_axes(x0, y0, x1, y1, hide_right=False, hide_bottom=False):
    lax = fig.add_axes(rect(x0, y0, x1, y1), zorder=2)
    lax.set_xlim(x0, x1)
    lax.set_ylim(y1, y0)
    lax.set_xticks([])
    lax.set_yticks([])
    for s in lax.spines.values():
        s.set_color('#777777')
        s.set_linewidth(1.5)
    lax.spines['right'].set_visible(not hide_right)
    lax.spines['bottom'].set_visible(not hide_bottom)
    return lax


# top legend
lg1 = legend_axes(1329, 23, 1623, 177)
lg1.plot([1350, 1469], [65, 65], color='#FF0000', lw=1.5)
lg1.plot([1350, 1469], [134, 134], color='#0000FF', lw=1.5)
sub_label(lg1, lg1.transData, 1482, 68, 'T', 'apsd15', 26, 22, 20)
sub_label(lg1, lg1.transData, 1482, 142, 'T', 'asho15', 26, 22, 19)

# middle legend (cut off at its bottom in the original)
lg2 = legend_axes(1590, 606, 1900, 787, hide_right=True)
lg2.plot([1671], [647], 'o', color='#0000FF', ms=11.5, mew=0)
lg2.plot([1611, 1729], [716, 716], color='#FF0000', lw=1.5)
lg2.plot([1611, 1729], [784, 784], color='#404040', lw=2)
sub_label(lg2, lg2.transData, 1742, 652, 'T', 'snakes', 29, 23, 18, clip=True)
sub_label(lg2, lg2.transData, 1742, 723, 'T', 'sbest', 29, 23, 17, clip=True)
lg2.text(1742, 794, 'T', fontsize=29, ha='left', va='baseline', clip_on=True)

# winds legend
lg3 = legend_axes(1587, 1110, 1874, 1240, hide_bottom=True)
lg3.plot([1608, 1723], [1142, 1142], color='#FF0000', lw=2)
lg3.plot([1608, 1723], [1193, 1193], color='#0000FF', lw=2)
lg3.text(1739, 1142, 'ws-true', fontsize=26, ha='left', va='center')
lg3.text(1739, 1193, 'wd-true', fontsize=26, ha='left', va='center')

# event annotations
notes = [
    (570, [(1080, 'On-ice'), (1115, 'wind event')]),
    (908, [(1132, 'Off-ice'), (1170, 'wind event')]),
    (1168, [(1128, 'Off-ice'), (1163, 'wind event')]),
    (1561, [(1125, 'On-ice'), (1162, 'wind'), (1200, 'event')]),
    (1666, [(1078, 'Off-ice'), (1117, 'wind event')]),
]
for x, lines in notes:
    for y, s in lines:
        fig.text(x, y, s, transform=px, fontsize=22.5, ha='left', va='center', zorder=3)

# translucent highlight boxes over all three panels
btr = blended_transform_factory(ax1.transData, px)
for d0, d1 in zip(calm_start, calm_end):
    fig.add_artist(Rectangle((d0, 27), d1 - d0, 1096, transform=btr,
                             facecolor=(204 / 255, 204 / 255, 238 / 255, 0.42),
                             edgecolor='#AEAEE8', lw=5, joinstyle='round',
                             clip_on=False, zorder=10))
for d0, d1 in zip(event_start, event_end):
    fig.add_artist(Rectangle((d0, 25), d1 - d0, 1095, transform=btr,
                             facecolor=(240 / 255, 219 / 255, 207 / 255, 0.42),
                             edgecolor='#FF3300', lw=5.8, joinstyle='round',
                             clip_on=False, zorder=10))

# slide decoration bars
fig.add_artist(Rectangle((0, 0), W, 5, transform=px, color='#AFC733', lw=0,
                         clip_on=False, zorder=11))
fig.add_artist(Rectangle((1863, 0), 32, 396, transform=px, color='#AFC733', lw=0,
                         clip_on=False, zorder=11))

fig.savefig('out.png', dpi=100)
